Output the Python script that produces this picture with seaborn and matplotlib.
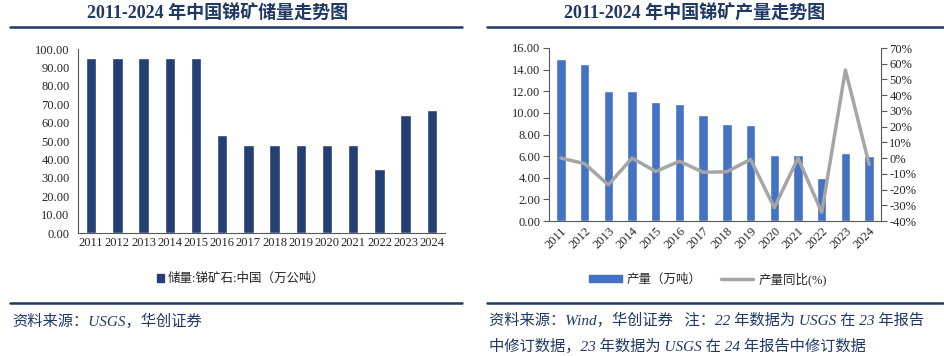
import numpy as np
import pandas as pd
import seaborn as sns
import matplotlib
matplotlib.use("Agg")
from matplotlib import pyplot as plt
from matplotlib.lines import Line2D
from matplotlib.patches import Patch
from matplotlib.ticker import FuncFormatter, MultipleLocator, FixedLocator

years = [str(y) for y in range(2011, 2025)]
reserves = [95, 95, 95, 95, 95, 53, 48, 48, 48, 48, 48, 35, 64, 67]
production = [15.0, 14.5, 12.0, 12.0, 11.0, 10.8, 9.8, 8.95, 8.9, 6.1, 6.1, 4.0, 6.25, 6.0]
yoy = [0.0, -3.5, -17.0, 0.0, -8.5, -2.0, -9.0, -8.7, -0.8, -31.5, 0.0, -34.5, 56.0, -4.0]

title_left = "2011-2024 年中国锑矿储量走势图"
title_right = "2011-2024 年中国锑矿产量走势图"
legend_left = "储量:锑矿石:中国（万公吨）"
legend_bar = "产量（万吨）"
legend_line = "产量同比(%)"
source_left = "资料来源：USGS，华创证券"
source_right_1 = "资料来源：Wind，华创证券   注：22 年数据为 USGS 在 23 年报告"
source_right_2 = "中修订数据，23 年数据为 USGS 在 24 年报告中修订数据"

sns.set_theme(style="white")
fam = ["Liberation Serif", "Noto Sans CJK SC", "DejaVu Sans"]
plt.rcParams["font.family"] = fam
plt.rcParams["axes.unicode_minus"] = False

W, H = 945, 356
fig = plt.figure(figsize=(W / 100, H / 100), dpi=100)
navy = "#1F3864"


def box(x0, y0, x1, y1):
    # pixel box (top-left origin) -> figure fraction rect
    return [x0 / W, 1 - y1 / H, (x1 - x0) / W, (y1 - y0) / H]


def style_cat_axis(ax, n):
    ax.set_xlim(-0.5, n - 0.5)
    ax.xaxis.set_minor_locator(FixedLocator(np.arange(-0.5, n, 1.0)))
    ax.tick_params(axis="x", which="major", length=0, pad=3)
    ax.tick_params(axis="x", which="minor", length=4, width=0.8, color="#595959", direction="out")
    ax.tick_params(axis="y", length=4, width=0.8, color="#595959", direction="out", pad=2)


# ---- left: reserves
ax1 = fig.add_axes(box(78, 49, 445, 233))
df1 = pd.DataFrame({"year": years, "val": reserves})
sns.barplot(data=df1, x="year", y="val", color="#243F73", width=0.4, saturation=1, ax=ax1)
ax1.set_ylim(0, 100)
ax1.yaxis.set_major_locator(MultipleLocator(10))
ax1.yaxis.set_major_formatter(FuncFormatter(lambda v, p: f"{v:.2f}"))
style_cat_axis(ax1, len(years))
ax1.set_xlabel("")
ax1.set_ylabel("")
for s in ["top", "right"]:
    ax1.spines[s].set_visible(False)
for s in ["left", "bottom"]:
    ax1.spines[s].set_color("#595959")
    ax1.spines[s].set_linewidth(0.8)
for lab in ax1.get_xticklabels():
    lab.set_fontsize(9)
for lab in ax1.get_yticklabels():
    lab.set_fontsize(9)

# ---- right: production + yoy
ax2 = fig.add_axes(box(549, 48, 881, 221))
df2 = pd.DataFrame({"year": years, "prod": production, "yoy": yoy})
sns.barplot(data=df2, x="year", y="prod", color="#4472C4", width=0.4, saturation=1, ax=ax2)
ax2.set_ylim(0, 16)
ax2.yaxis.set_major_locator(MultipleLocator(2))
ax2.yaxis.set_major_formatter(FuncFormatter(lambda v, p: f"{v:.2f}"))
style_cat_axis(ax2, len(years))
ax2.set_xlabel("")
ax2.set_ylabel("")
ax2.spines["top"].set_visible(False)
for s in ["left", "bottom", "right"]:
    ax2.spines[s].set_color("#595959")
    ax2.spines[s].set_linewidth(0.8)
ax2.spines["right"].set_visible(False)
for lab in ax2.get_xticklabels():
    lab.set_fontsize(9)
    lab.set_rotation(45)
    lab.set_ha("right")
    lab.set_rotation_mode("anchor")
for lab in ax2.get_yticklabels():
    lab.set_fontsize(9)

ax3 = ax2.twinx()
sns.lineplot(data=df2, x="year", y="yoy", color="#A5A5A5", linewidth=2.5, ax=ax3, sort=False)
ax3.set_ylim(-40, 70)
ax3.yaxis.set_major_locator(MultipleLocator(10))
ax3.yaxis.set_major_formatter(FuncFormatter(lambda v, p: f"{v:.0f}%"))
ax3.set_ylabel("")
ax3.set_xlabel("")
ax3.tick_params(axis="y", length=4, width=0.8, color="#595959", direction="out", pad=2, labelsize=9)
ax3.spines["top"].set_visible(False)
ax3.spines["left"].set_visible(False)
ax3.spines["bottom"].set_visible(False)
ax3.spines["right"].set_color("#595959")
ax3.spines["right"].set_linewidth(0.8)
ax2.set_xlim(-0.5, len(years) - 0.5)

# ---- titles and rules
fig.text(218 / W, 1 - 14 / H, title_left, ha="center", va="center", fontsize=13,
         fontweight="bold", color=navy, family=fam)
fig.text(695 / W, 1 - 14 / H, title_right, ha="center", va="center", fontsize=13,
         fontweight="bold", color=navy, family=fam)
for x0, x1 in [(10, 462), (487, 943)]:
    fig.add_artist(Line2D([x0 / W, x1 / W], [1 - 27 / H] * 2, color=navy, linewidth=1.8))
    fig.add_artist(Line2D([x0 / W, x1 / W], [1 - 303 / H] * 2, color=navy, linewidth=1.8))

# ---- legends
fig.legend(handles=[Patch(color="#243F73", label=legend_left)], loc="center",
           bbox_to_anchor=(241 / W, 1 - 279 / H), frameon=False, fontsize=9,
           handlelength=0.6, handleheight=0.6, handletextpad=0.3)
fig.legend(handles=[Patch(color="#4472C4", label=legend_bar),
                    Line2D([], [], color="#A5A5A5", linewidth=2.5, label=legend_line)],
           loc="center", bbox_to_anchor=(708 / W, 1 - 279 / H), ncol=2, frameon=False,
           fontsize=9, handlelength=2.6, handleheight=0.6, handletextpad=0.4, columnspacing=1.5)

# ---- sources
fig.text(12 / W, 1 - 321 / H, source_left, ha="left", va="center", fontsize=11,
         style="italic", color=navy, family=fam)
fig.text(489 / W, 1 - 320 / H, source_right_1, ha="left", va="center", fontsize=11,
         style="italic", color=navy, family=fam)
fig.text(489 / W, 1 - 346 / H, source_right_2, ha="left", va="center", fontsize=11,
         style="italic", color=navy, family=fam)

fig.savefig("out.png", dpi=100, facecolor="white")
